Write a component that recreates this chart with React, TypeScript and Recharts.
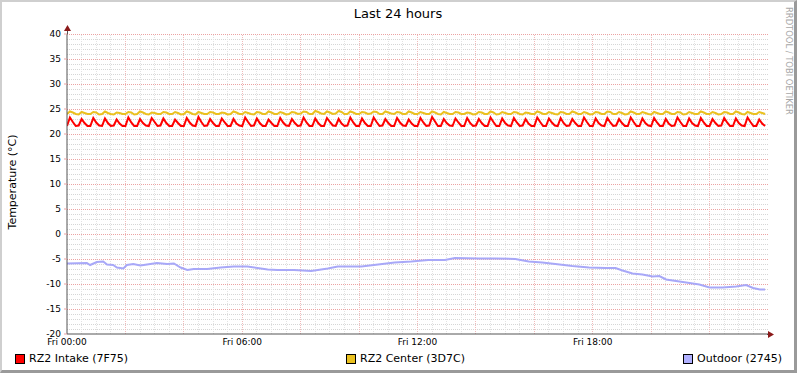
import React from 'react';
import { LineChart, Line, XAxis, YAxis, ReferenceLine } from 'recharts';

const FONT = '"DejaVu Sans", sans-serif';

// RZ2 Intake (7F75), one reading every 6 minutes from Fri 00:00
const intake = [
  21.6, 23.3, 22.4, 21.6, 21.7, 23.0, 22.2, 21.6, 21.6, 23.2, 22.3, 21.7, 21.6, 23.1, 22.2, 21.6, 21.7, 22.9, 22.1, 21.6,
  21.6, 23.3, 22.3, 21.6, 21.6, 23.0, 22.2, 21.7, 21.6, 23.2, 22.4, 21.6, 21.7, 23.1, 22.2, 21.6, 21.6, 22.9, 22.2, 21.6,
  21.6, 23.2, 22.3, 21.7, 21.6, 23.4, 22.4, 21.6, 21.7, 23.0, 22.2, 21.6, 21.6, 23.1, 22.3, 21.6, 21.6, 23.0, 22.1, 21.7,
  21.6, 23.3, 22.4, 21.6, 21.7, 23.1, 22.2, 21.6, 21.6, 22.9, 22.2, 21.6, 21.6, 23.2, 22.3, 21.7, 21.6, 23.0, 22.2, 21.6,
  21.7, 23.3, 22.3, 21.6, 21.6, 23.1, 22.2, 21.6, 21.6, 23.2, 22.4, 21.7, 21.6, 23.0, 22.1, 21.6, 21.7, 23.3, 22.3, 21.6,
  21.6, 23.1, 22.2, 21.6, 21.6, 23.3, 22.4, 21.6, 21.7, 23.0, 22.2, 21.6, 21.6, 23.2, 22.3, 21.7, 21.6, 22.9, 22.1, 21.6,
  21.6, 23.2, 22.3, 21.6, 21.7, 23.4, 22.5, 21.6, 21.6, 23.0, 22.2, 21.7, 21.6, 23.1, 22.3, 21.6, 21.6, 23.2, 22.2, 21.6,
  21.7, 23.0, 22.2, 21.6, 21.6, 23.3, 22.4, 21.6, 21.6, 23.1, 22.2, 21.7, 21.6, 23.2, 22.3, 21.6, 21.7, 23.0, 22.1, 21.6,
  21.6, 23.3, 22.4, 21.6, 21.6, 23.1, 22.3, 21.7, 21.6, 23.2, 22.2, 21.6, 21.7, 23.0, 22.2, 21.6, 21.6, 23.3, 22.4, 21.6,
  21.6, 23.1, 22.2, 21.7, 21.6, 23.2, 22.3, 21.6, 21.7, 23.0, 22.2, 21.6, 21.6, 23.3, 22.4, 21.6, 21.6, 23.1, 22.2, 21.7,
  21.6, 23.2, 22.3, 21.6, 21.6, 23.0, 22.1, 21.6, 21.7, 23.3, 22.4, 21.6, 21.6, 23.1, 22.2, 21.7, 21.6, 23.2, 22.3, 21.6,
  21.6, 23.0, 22.2, 21.6, 21.7, 23.2, 22.3, 21.6, 21.6, 23.1, 22.2, 21.7, 21.6, 23.3, 22.4, 21.6, 21.6, 22.9, 22.1, 21.6,
];

// RZ2 Center (3D7C), same timestamps
const center = [
  24.0, 24.5, 24.3, 24.0, 23.9, 24.4, 24.2, 24.0, 24.0, 24.4, 24.3, 23.9, 24.0, 24.5, 24.2, 24.0, 23.9, 24.3, 24.2, 24.0,
  24.0, 24.4, 24.3, 23.9, 24.0, 24.5, 24.3, 24.0, 23.9, 24.3, 24.2, 24.0, 24.0, 24.4, 24.3, 24.0, 24.0, 24.4, 24.2, 23.9,
  24.0, 24.5, 24.3, 24.0, 23.9, 24.4, 24.2, 24.0, 24.0, 24.4, 24.3, 24.0, 24.0, 24.3, 24.2, 23.9, 24.0, 24.5, 24.3, 24.0,
  24.0, 24.4, 24.2, 24.0, 23.9, 24.4, 24.3, 24.0, 24.0, 24.5, 24.3, 24.0, 24.0, 24.4, 24.2, 23.9, 24.0, 24.4, 24.3, 24.0,
  24.1, 24.5, 24.4, 24.0, 24.0, 24.6, 24.4, 24.1, 24.0, 24.5, 24.3, 24.0, 24.1, 24.6, 24.4, 24.0, 24.0, 24.5, 24.3, 24.0,
  24.0, 24.4, 24.3, 24.0, 24.1, 24.5, 24.4, 24.0, 24.0, 24.5, 24.3, 24.1, 24.0, 24.4, 24.3, 24.0, 24.0, 24.5, 24.3, 24.0,
  24.0, 24.4, 24.2, 24.0, 24.0, 24.5, 24.3, 24.0, 23.9, 24.4, 24.2, 24.0, 24.0, 24.4, 24.3, 24.0, 24.0, 24.3, 24.2, 23.9,
  24.0, 24.4, 24.3, 24.0, 24.0, 24.5, 24.3, 23.9, 24.0, 24.4, 24.2, 24.0, 24.0, 24.4, 24.3, 24.0, 23.9, 24.3, 24.2, 24.0,
  24.0, 24.5, 24.3, 24.0, 24.0, 24.4, 24.2, 24.0, 23.9, 24.4, 24.3, 24.0, 24.0, 24.5, 24.3, 24.0, 24.0, 24.4, 24.2, 23.9,
  24.0, 24.4, 24.3, 24.0, 24.0, 24.5, 24.4, 24.0, 24.0, 24.4, 24.2, 23.9, 24.0, 24.5, 24.3, 24.0, 24.0, 24.4, 24.2, 24.0,
  23.9, 24.4, 24.2, 24.0, 24.0, 24.5, 24.3, 24.0, 24.0, 24.4, 24.3, 23.9, 24.0, 24.4, 24.2, 24.0, 24.0, 24.5, 24.3, 24.0,
  24.0, 24.4, 24.2, 23.9, 24.0, 24.4, 24.3, 24.0, 24.0, 24.5, 24.3, 24.0, 23.9, 24.4, 24.2, 24.0, 24.0, 24.4, 24.2, 24.0,
];

const outdoorHours = [
  0, 0.68, 0.79, 1.02, 1.24, 1.37, 1.58, 1.71, 1.93, 2.05, 2.27, 2.51, 2.74, 3.08, 3.43, 3.66, 3.89, 4.12, 4.34, 4.8,
  5.26, 5.71, 6.18, 6.52, 6.87, 7.2, 7.77, 8.36, 8.93, 9.27, 10.08, 10.65, 11.22, 11.79, 12.37, 12.94, 13.28, 14.09,
  14.66, 15.35, 15.81, 16.27, 16.72, 17.3, 17.87, 18.44, 18.78, 19.02, 19.36, 19.7, 20.05, 20.28, 20.51, 20.97, 21.31,
  21.65, 22.0, 22.45, 22.91, 23.25, 23.49, 23.72, 23.9,
];
const outdoorTemps = [
  -5.9, -5.8, -6.2, -5.6, -5.5, -6.1, -6.2, -6.7, -6.9, -6.2, -6.0, -6.3, -6.1, -5.8, -6.0, -5.9, -6.7, -7.2, -7.0, -7.0,
  -6.7, -6.5, -6.5, -6.8, -7.1, -7.2, -7.2, -7.4, -6.9, -6.5, -6.5, -6.1, -5.7, -5.5, -5.2, -5.2, -4.8, -4.9,
  -4.9, -5.0, -5.5, -5.7, -6.0, -6.4, -6.7, -6.8, -6.8, -7.3, -7.9, -8.1, -8.5, -8.4, -9.1, -9.5, -9.8,
  -10.1, -10.7, -10.7, -10.5, -10.2, -10.8, -11.1, -11.1,
];

const hourTicks = [0, 6, 12, 18];
const hourLabels = ['Fri 00:00', 'Fri 06:00', 'Fri 12:00', 'Fri 18:00'];
const tempTicks = [-20, -15, -10, -5, 0, 5, 10, 15, 20, 25, 30, 35, 40];

const legend = [
  { name: 'RZ2 Intake (7F75)', color: '#FF0000', left: 15 },
  { name: 'RZ2 Center (3D7C)', color: '#EAC11F', left: 346 },
  { name: 'Outdoor (2745)', color: '#B0B0FF', left: 683 },
];

const rzData = intake.map((v, i) => ({ h: i * 0.1, intake: v, center: center[i] }));
const outdoorData = outdoorHours.map((h, i) => ({ h, outdoor: outdoorTemps[i] }));

// grid: minor every 1 °C / 30 min, major every 5 °C / 2 h
const minorTemps = Array.from({ length: 59 }, (_, i) => i - 19).filter((t) => t % 5 !== 0);
const majorTemps = tempTicks.filter((t) => t > -20);
const minorHours = Array.from({ length: 48 }, (_, i) => i * 0.5).filter((h) => h > 0 && h % 2 !== 0);
const majorHours = [2, 4, 6, 8, 10, 12, 14, 16, 18, 20, 22];

const MINOR = '#d6d6d6';
const MAJOR = '#eba3a3';
const MINOR_V = '#e3e3e3';
const MAJOR_V = '#f0baba';

export default function App() {
  return (
    <div
      style={{
        position: 'absolute',
        top: 0,
        left: 0,
        width: 797,
        height: 373,
        boxSizing: 'border-box',
        background: '#fff',
        borderTop: '2px solid #cfcfcf',
        borderLeft: '2px solid #cfcfcf',
        borderRight: '3px solid #9a9a9a',
        borderBottom: '3px solid #9a9a9a',
        fontFamily: FONT,
      }}
    >
      <div style={{ position: 'absolute', left: -2, top: -2 }}>
        <LineChart width={797} height={373} margin={{ top: 34, right: 29, bottom: 19, left: 0 }}>
          {minorTemps.map((t) => (
            <ReferenceLine key={'mt' + t} y={t} stroke={MINOR} strokeDasharray="1 1" shapeRendering="crispEdges" />
          ))}
          {minorHours.map((h) => (
            <ReferenceLine key={'mh' + h} x={h} stroke={MINOR_V} strokeDasharray="1 1" shapeRendering="crispEdges" />
          ))}
          {majorTemps.map((t) => (
            <ReferenceLine key={'Mt' + t} y={t} stroke={MAJOR} strokeDasharray="1 1" shapeRendering="crispEdges" />
          ))}
          {majorHours.map((h) => (
            <ReferenceLine key={'Mh' + h} x={h} stroke={MAJOR_V} strokeDasharray="1 1" shapeRendering="crispEdges" />
          ))}
          <XAxis
            type="number"
            dataKey="h"
            domain={[0, 24]}
            ticks={hourTicks}
            tickFormatter={(v: number) => hourLabels[hourTicks.indexOf(v)]}
            height={20}
            axisLine={{ stroke: '#555' }}
            tickLine={false}
            tickSize={3}
            tickMargin={2}
            tick={{ fontSize: 9, fill: '#000', fontFamily: FONT }}
            allowDataOverflow
          />
          <YAxis
            type="number"
            domain={[-20, 40]}
            ticks={tempTicks}
            width={67}
            axisLine={{ stroke: '#555' }}
            tickLine={{ stroke: MAJOR }}
            tickSize={3}
            tickMargin={3}
            tick={{ fontSize: 9, fill: '#000', fontFamily: FONT }}
            interval={0}
          />
          <Line data={rzData} dataKey="intake" stroke="#FF0000" strokeWidth={2} dot={false} isAnimationActive={false} />
          <Line data={rzData} dataKey="center" stroke="#EAC11F" strokeWidth={2} dot={false} isAnimationActive={false} />
          <Line data={outdoorData} dataKey="outdoor" stroke="#A8A8F8" strokeWidth={2} dot={false} isAnimationActive={false} />
        </LineChart>
      </div>

      <svg width={797} height={373} style={{ position: 'absolute', left: -2, top: -2, pointerEvents: 'none' }}>
        <text x={398} y={18} textAnchor="middle" fontSize={13} fontFamily={FONT} fill="#000">
          Last 24 hours
        </text>
        <text
          x={12}
          y={182}
          transform="rotate(-90 12 182)"
          textAnchor="middle"
          dominantBaseline="central"
          fontSize={11}
          fontFamily={FONT}
          fill="#000"
        >
          Temperature (°C)
        </text>
        <text
          x={786}
          y={7}
          transform="rotate(90 786 7)"
          fontSize={8.4}
          fontFamily={FONT}
          fill="#a8a8a8"
        >
          RRDTOOL / TOBI OETIKER
        </text>
        <line x1={767} y1={334.5} x2={770} y2={334.5} stroke="#555" />
        <path d="M768 331 L774 334.5 L768 338 Z" fill="#8b1a1a" />
        <line x1={67.5} y1={29} x2={67.5} y2={34} stroke="#555" />
        <path d="M64 31 L67.5 25 L71 31 Z" fill="#8b1a1a" />
      </svg>

      {legend.map((item) => (
        <div
          key={item.name}
          style={{
            position: 'absolute',
            left: item.left - 2,
            top: 350,
            display: 'flex',
            alignItems: 'center',
            fontSize: 11,
            color: '#000',
            whiteSpace: 'nowrap',
          }}
        >
          <span
            style={{
              display: 'inline-block',
              width: 8,
              height: 8,
              background: item.color,
              border: '1px solid #000',
              marginRight: 4,
            }}
          />
          {item.name}
        </div>
      ))}
    </div>
  );
}
